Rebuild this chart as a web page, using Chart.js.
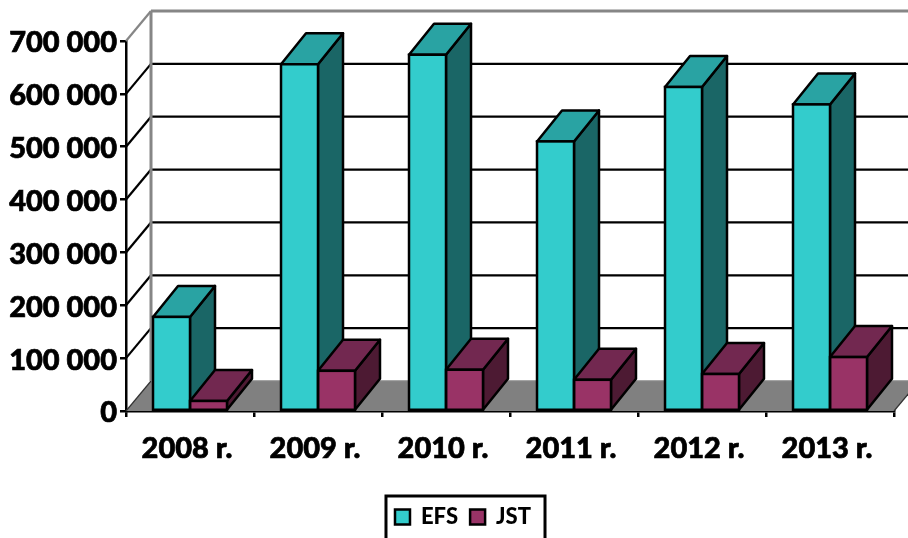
<!DOCTYPE html>
<html><head><meta charset="utf-8">
<style>html,body{margin:0;padding:0;background:#fff}canvas{display:block}</style>
<script src="https://cdn.jsdelivr.net/npm/chart.js@4"></script></head>
<body><canvas id="c" width="908" height="538"></canvas>
<script>
const categories = ['2008 r.','2009 r.','2010 r.','2011 r.','2012 r.','2013 r.'];
const efsValues = [178000,656000,674000,510000,613000,580000];
const jstValues = [19000,76000,78000,59000,70000,102000];
const tickStep = 100000;
const axisMax = 700000;
const DEPTH_X = 25, DEPTH_Y = 30, BAR_DEPTH_Y = 31, LINE = 2.5;
const LEGEND_SHIFT = 16;
const FONT = 'Lato, Carlito, sans-serif';
const palette = {efs:['#33CCCC','#29A3A3','#1A6666'], jst:['#993366','#722850','#4D1A33']};

function fmt(v){return String(v).replace(/\B(?=(\d{3})+$)/g,' ');}
function poly(ctx,pts,fill){
  ctx.beginPath();pts.forEach((p,i)=>i?ctx.lineTo(p[0],p[1]):ctx.moveTo(p[0],p[1]));ctx.closePath();
  ctx.fillStyle=fill;ctx.fill();ctx.strokeStyle='#000';ctx.lineWidth=LINE;ctx.lineJoin='round';ctx.stroke();
}
const scene = {
  id:'scene',
  afterLayout(chart){
    const lg=chart.legend;
    lg.left+=LEGEND_SHIFT;lg.right+=LEGEND_SHIFT;
  },
  beforeDatasetsDraw(chart){
    const {ctx,scales:{x,y},chartArea:a}=chart;
    const W=chart.width;
    ctx.save();
    const y0=y.getPixelForValue(0), yt=y.getPixelForValue(axisMax);
    // floor
    ctx.fillStyle='#808080';
    ctx.beginPath();ctx.moveTo(a.left,y0);ctx.lineTo(a.left+DEPTH_X,y0-DEPTH_Y);ctx.lineTo(a.right+DEPTH_X,y0-DEPTH_Y);ctx.lineTo(a.right,y0);ctx.closePath();ctx.fill();
    // grid
    for(let v=0;v<=axisMax;v+=tickStep){
      const p=y.getPixelForValue(v);
      const edge=(v===axisMax||v===0);
      ctx.strokeStyle=v===axisMax?'#868686':(v===0?'#333':'#000');
      ctx.lineWidth=v===0?1.2:2.2;
      ctx.beginPath();ctx.moveTo(a.left,p);ctx.lineTo(a.left+DEPTH_X,p-DEPTH_Y);ctx.stroke();
      ctx.lineWidth=edge?(v===0?1.5:3):2.2;
      ctx.strokeStyle=edge?'#868686':'#000';
      ctx.beginPath();ctx.moveTo(a.left+DEPTH_X,p-DEPTH_Y);ctx.lineTo(W,p-DEPTH_Y);ctx.stroke();
    }
    // floor right edge
    ctx.strokeStyle='#333';ctx.lineWidth=1.2;
    ctx.beginPath();ctx.moveTo(a.right,y0);ctx.lineTo(a.right+DEPTH_X,y0-DEPTH_Y);ctx.stroke();
    // back wall left edge
    ctx.strokeStyle='#868686';ctx.lineWidth=3;
    ctx.beginPath();ctx.moveTo(a.left+DEPTH_X,yt-DEPTH_Y);ctx.lineTo(a.left+DEPTH_X,y0-DEPTH_Y);ctx.stroke();
    // bar depth faces
    [palette.efs,palette.jst].forEach((pal,d)=>{
      chart.getDatasetMeta(d).data.forEach(b=>{
        const l=b.x-b.width/2,r=b.x+b.width/2,t=b.y,bt=b.base;
        poly(ctx,[[r,t],[r+DEPTH_X,t-BAR_DEPTH_Y],[r+DEPTH_X,bt-BAR_DEPTH_Y],[r,bt]],pal[2]);
        poly(ctx,[[l,t],[l+DEPTH_X,t-BAR_DEPTH_Y],[r+DEPTH_X,t-BAR_DEPTH_Y],[r,t]],pal[1]);
      });
    });
    ctx.restore();
  },
  afterDatasetsDraw(chart){
    const {ctx}=chart;
    ctx.save();ctx.strokeStyle='#000';ctx.lineWidth=LINE;
    [0,1].forEach(d=>chart.getDatasetMeta(d).data.forEach(b=>{
      ctx.strokeRect(b.x-b.width/2,b.y,b.width,b.base-b.y);
    }));
    // legend frame
    const hb=chart.legend.legendHitBoxes;
    if(hb&&hb.length){
      const L=Math.min(...hb.map(h=>h.left))-9, R=Math.max(...hb.map(h=>h.left+h.width))+14;
      const T=hb[0].top-10;
      ctx.lineWidth=3;
      ctx.beginPath();ctx.moveTo(L,chart.height+4);ctx.lineTo(L,T);ctx.lineTo(R,T);ctx.lineTo(R,chart.height+4);ctx.stroke();
    }
    ctx.restore();
  }
};
new Chart(document.getElementById('c'),{
  type:'bar',
  plugins:[scene],
  data:{labels:categories,datasets:[
    {label:'EFS',data:efsValues,backgroundColor:palette.efs[0],borderWidth:0},
    {label:'JST',data:jstValues,backgroundColor:palette.jst[0],borderWidth:0}
  ]},
  options:{
    responsive:false,animation:false,
    categoryPercentage:0.578,barPercentage:1,
    layout:{padding:{left:0,right:14,top:41,bottom:0}},
    scales:{
      x:{
        grid:{drawOnChartArea:false,drawTicks:true,tickLength:6,color:'#000',lineWidth:2.5},
        border:{display:true,color:'#000',width:2.5},
        ticks:{color:'#000',font:{family:FONT,size:29,weight:'900'},padding:14,labelOffset:-3,maxRotation:0,autoSkip:false,textStrokeColor:'#000',textStrokeWidth:0.7},
        afterFit(s){s.height=83;}
      },
      y:{
        min:0,max:axisMax,
        grid:{drawOnChartArea:false,drawTicks:true,tickLength:6,color:'#000',lineWidth:2.5},
        border:{display:true,color:'#000',width:2.5},
        ticks:{stepSize:tickStep,color:'#000',font:{family:FONT,size:29,weight:'900'},padding:3,labelOffset:2,callback:v=>fmt(v),textStrokeColor:'#000',textStrokeWidth:0.7},
        afterFit(s){s.width=126;}
      }
    },
    plugins:{
      tooltip:{enabled:false},
      legend:{
        position:'bottom',
        labels:{
          boxWidth:15,boxHeight:15,padding:12,color:'#000',font:{family:FONT,size:22,weight:'900'},
          generateLabels(ch){return ch.data.datasets.map((d,i)=>({text:d.label,fillStyle:d.backgroundColor,strokeStyle:'#000',lineWidth:2.5,datasetIndex:i,fontColor:'#000'}));}
        }
      }
    }
  }
});
</script></body></html>
